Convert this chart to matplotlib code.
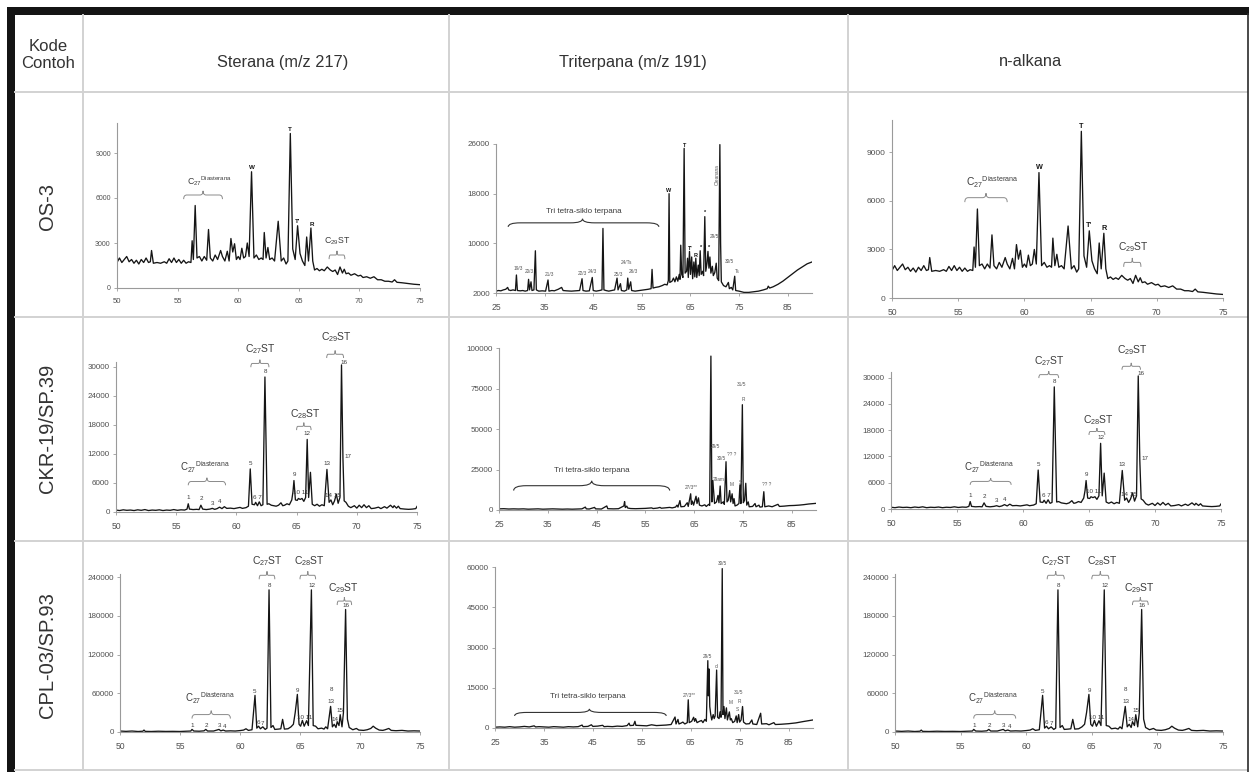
import matplotlib

matplotlib.use("Agg")
import matplotlib.pyplot as plt
from matplotlib.patches import PathPatch, Rectangle
from matplotlib.path import Path

plt.rcParams["font.family"] = ["Liberation Sans", "DejaVu Sans"]
plt.rcParams["mathtext.fontset"] = "custom"
plt.rcParams["mathtext.rm"] = "Liberation Sans"
plt.rcParams["mathtext.it"] = "Liberation Sans:italic"

W, H = 1250, 772

SAMPLES = ["OS-3", "CKR-19/SP.39", "CPL-03/SP.93"]
COLUMNS = ["Sterana (m/z 217)", "Triterpana (m/z 191)", "n-alkana"]

STER_XTICKS = [50, 55, 60, 65, 70, 75]
TRI_XTICKS = [25, 35, 45, 55, 65, 75, 85]
yticks_os3_ster = [0, 3000, 6000, 9000]
yticks_os3_tri = [2000, 10000, 18000, 26000]
yticks_ckr_ster = [0, 6000, 12000, 18000, 24000, 30000]
yticks_ckr_tri = [0, 25000, 50000, 75000, 100000]
yticks_cpl_ster = [0, 60000, 120000, 180000, 240000]
yticks_cpl_tri = [0, 15000, 30000, 45000, 60000]

# traces: (retention time, abundance)
os3_sterana = [
    (50.0, 1700), (50.2, 2000), (50.4, 1700), (50.6, 1900), (50.8, 2100), (51.0, 1750),
    (51.2, 1900), (51.4, 1650), (51.6, 1850), (51.8, 1600), (52.0, 1900), (52.2, 1700),
    (52.4, 2000), (52.6, 1700), (52.75, 1750), (52.85, 2500), (53.0, 1650), (53.3, 1700),
    (53.6, 1650), (53.9, 1750), (54.1, 1650), (54.3, 1950), (54.5, 1700), (54.7, 2000),
    (54.9, 1700), (55.1, 1900), (55.3, 1650), (55.5, 1850), (55.7, 1650), (55.9, 1750),
    (56.1, 1700), (56.2, 3150), (56.3, 1900), (56.45, 5500), (56.6, 2000), (56.8, 2100),
    (57.0, 1800), (57.2, 2100), (57.4, 1850), (57.55, 3900), (57.7, 2000), (57.9, 1800),
    (58.1, 2200), (58.3, 1900), (58.55, 2500), (58.7, 2100), (58.9, 1800), (59.1, 2450),
    (59.25, 1800), (59.4, 3300), (59.55, 2400), (59.7, 2950), (59.85, 1900), (60.0, 2100),
    (60.15, 1900), (60.3, 2650), (60.45, 2000), (60.6, 2100), (60.75, 3000), (60.9, 2100),
    (61.1, 7750), (61.3, 2000), (61.5, 2200), (61.7, 1900), (61.9, 2000), (62.05, 1900),
    (62.15, 3700), (62.3, 2000), (62.45, 2700), (62.6, 1900), (62.8, 2000), (63.0, 1800),
    (63.3, 4450), (63.55, 1800), (63.75, 2000), (63.95, 1600), (64.1, 1800), (64.3, 10300),
    (64.5, 2600), (64.7, 1900), (64.9, 4150), (65.1, 2300), (65.3, 1800), (65.5, 1500),
    (65.65, 3400), (65.8, 1800), (66.0, 4000), (66.15, 1800), (66.3, 1200), (66.5, 1300),
    (66.7, 1150), (66.9, 1250), (67.1, 1150), (67.35, 1400), (67.6, 1200), (67.8, 1100),
    (68.0, 1200), (68.2, 900), (68.4, 1400), (68.6, 1000), (68.75, 1250), (68.9, 950),
    (69.1, 1000), (69.3, 850), (69.6, 950), (69.9, 800), (70.1, 850), (70.3, 700),
    (70.6, 750), (70.9, 650), (71.2, 750), (71.5, 550), (71.8, 550), (72.1, 450),
    (72.4, 450), (72.7, 400), (72.9, 550), (73.1, 380), (73.5, 350), (74.0, 300),
    (74.5, 250), (75.0, 220),
]

os3_triterpana = [
    (25.0, 2300), (25.5, 2400), (26.0, 2350), (26.5, 2500), (27.0, 2600), (27.4, 2900),
    (27.6, 2500), (28.0, 2400), (28.5, 2500), (29.0, 2400), (29.2, 4900), (29.4, 2400),
    (30.0, 2350), (30.5, 2400), (31.0, 2300), (31.5, 2400), (31.7, 4200), (31.9, 2500),
    (32.2, 3800), (32.4, 2400), (32.8, 2500), (33.1, 8800), (33.3, 2500), (33.8, 2300),
    (34.5, 2350), (35.2, 2300), (35.7, 4100), (35.9, 2300), (36.5, 2400), (37.0, 2350),
    (37.8, 2600), (38.5, 2900), (38.8, 2400), (39.5, 2350), (40.5, 2300), (41.5, 2350),
    (42.2, 2400), (42.7, 4300), (42.9, 2400), (43.5, 2300), (44.2, 2350), (44.8, 4500),
    (45.0, 2400), (45.6, 2300), (46.3, 2400), (46.8, 2500), (47.0, 12400), (47.2, 2500),
    (47.6, 2400), (48.2, 2300), (48.8, 2400), (49.4, 2500), (49.9, 4400), (50.1, 2500),
    (50.6, 3500), (50.8, 2400), (51.4, 2300), (51.9, 2500), (52.1, 4400), (52.3, 2600),
    (52.7, 3800), (52.9, 2400), (53.6, 2300), (54.5, 2400), (55.5, 2500), (56.3, 2600),
    (56.9, 2700), (57.1, 5800), (57.3, 2800), (57.8, 2900), (58.5, 3000), (59.2, 3200),
    (59.7, 3400), (60.2, 3300), (60.45, 4000), (60.6, 18000), (60.75, 3700), (61.2, 3900),
    (61.5, 4400), (61.8, 3800), (62.1, 4600), (62.4, 3900), (62.7, 5000), (62.85, 4200),
    (63.0, 9700), (63.2, 5000), (63.45, 4500), (63.7, 25300), (63.9, 5200), (64.2, 5500),
    (64.4, 7600), (64.55, 4500), (64.8, 8700), (65.0, 5000), (65.25, 7800), (65.45, 4300),
    (65.7, 7000), (65.9, 4600), (66.1, 7600), (66.3, 4500), (66.6, 6500), (66.8, 4800),
    (67.0, 8800), (67.2, 5000), (67.5, 5500), (67.7, 4800), (67.95, 14300), (68.15, 5500),
    (68.4, 6800), (68.6, 8700), (68.8, 6000), (69.0, 7800), (69.2, 5200), (69.5, 6300),
    (69.7, 4800), (70.0, 5300), (70.3, 6800), (70.5, 4400), (70.8, 4000), (71.05, 25900),
    (71.2, 10000), (71.35, 3800), (71.8, 3200), (72.3, 3000), (72.8, 3700), (73.0, 2700),
    (73.4, 2900), (73.7, 2500), (74.1, 4700), (74.3, 2400), (75.0, 2300), (76.0, 2100),
    (77.0, 2100), (78.0, 2200), (79.0, 2300), (80.0, 2500), (80.8, 2700), (81.0, 3100),
    (81.3, 2800), (82.0, 3000), (83.0, 3400), (84.0, 3900), (85.0, 4500), (86.0, 5100),
    (87.0, 5700), (88.0, 6200), (89.0, 6700), (90.0, 7000),
]

ckr_sterana = [
    (50.0, 400), (50.3, 300), (50.6, 450), (50.9, 350), (51.2, 400), (51.5, 300),
    (51.8, 450), (52.1, 350), (52.4, 500), (52.7, 300), (53.0, 400), (53.3, 350),
    (53.6, 450), (53.9, 300), (54.2, 400), (54.5, 350), (54.8, 500), (55.1, 350),
    (55.4, 450), (55.7, 400), (55.9, 600), (56.0, 1700), (56.1, 600), (56.4, 500),
    (56.7, 550), (56.9, 500), (57.05, 1400), (57.2, 600), (57.5, 500), (57.8, 600),
    (58.0, 750), (58.2, 550), (58.4, 700), (58.6, 1000), (58.8, 700), (59.0, 1100),
    (59.2, 750), (59.5, 800), (59.8, 700), (60.0, 800), (60.3, 950), (60.5, 750),
    (60.8, 900), (61.0, 1200), (61.15, 8900), (61.3, 1600), (61.5, 1500), (61.6, 2000),
    (61.75, 1300), (61.9, 2100), (62.05, 1300), (62.2, 1500), (62.37, 27900), (62.55, 1600),
    (62.7, 1700), (62.9, 1400), (63.1, 1300), (63.3, 1200), (63.5, 1400), (63.7, 1900),
    (63.85, 1300), (64.0, 1400), (64.2, 1700), (64.4, 1500), (64.6, 2500), (64.7, 4200),
    (64.78, 6500), (64.9, 2500), (65.05, 2400), (65.15, 2800), (65.3, 2600), (65.45, 2800),
    (65.6, 2200), (65.75, 3000), (65.88, 15000), (66.0, 3000), (66.15, 8200), (66.3, 1600),
    (66.5, 1300), (66.7, 1600), (66.9, 1200), (67.1, 1500), (67.3, 1300), (67.52, 8800),
    (67.7, 2000), (67.85, 2500), (68.0, 1500), (68.15, 2300), (68.3, 3700), (68.45, 1800),
    (68.6, 3000), (68.73, 30400), (68.85, 11000), (68.95, 2300), (69.1, 2000), (69.3, 1200),
    (69.5, 900), (69.8, 1300), (70.0, 800), (70.2, 1400), (70.4, 900), (70.6, 1500),
    (70.8, 900), (71.0, 1300), (71.2, 700), (71.5, 800), (71.8, 1000), (72.0, 700),
    (72.3, 1100), (72.5, 800), (72.8, 1400), (73.0, 900), (73.1, 1300), (73.3, 800),
    (73.45, 1200), (73.6, 700), (74.0, 600), (74.3, 550), (74.6, 600), (74.9, 700),
    (75.0, 1150),
]

ckr_triterpana = [
    (25.0, 700), (26.0, 800), (27.0, 600), (28.0, 700), (29.0, 600), (30.0, 700),
    (31.0, 500), (32.0, 600), (33.0, 700), (34.0, 500), (35.0, 600), (36.0, 700),
    (37.0, 600), (38.0, 500), (39.0, 600), (40.0, 500), (41.0, 600), (42.0, 700),
    (42.7, 1800), (42.9, 700), (43.5, 600), (44.6, 1600), (44.8, 700), (46.0, 600),
    (47.1, 2500), (47.3, 800), (48.5, 700), (49.5, 800), (50.6, 2500), (50.75, 5200),
    (50.9, 1500), (51.2, 2400), (51.4, 1200), (52.0, 900), (53.0, 800), (54.0, 900),
    (55.0, 1000), (56.3, 1300), (56.6, 900), (57.5, 1200), (58.0, 1600), (58.3, 1100),
    (59.0, 1300), (60.0, 1600), (60.5, 1300), (61.2, 1800), (61.5, 3000), (61.7, 1800),
    (62.1, 5800), (62.3, 2000), (63.0, 2200), (63.6, 4500), (63.8, 2200), (64.3, 10000),
    (64.45, 3500), (64.65, 5500), (64.9, 3000), (65.4, 8500), (65.6, 4000), (65.9, 7500),
    (66.1, 3000), (66.6, 2500), (67.2, 3200), (67.5, 2200), (68.0, 3500), (68.2, 2800),
    (68.45, 95000), (68.65, 5000), (68.8, 18000), (69.0, 12000), (69.2, 4000), (69.6, 5000),
    (69.9, 9000), (70.1, 4500), (70.35, 14800), (70.55, 4000), (71.0, 5000), (71.2, 3500),
    (71.55, 29800), (71.75, 5000), (72.0, 6000), (72.3, 12000), (72.5, 5000), (72.8, 10000),
    (73.0, 4000), (73.2, 7000), (73.4, 2500), (73.8, 3000), (74.2, 4000), (74.4, 15500),
    (74.6, 4000), (74.9, 65000), (75.1, 4500), (75.35, 6000), (75.6, 16500), (75.8, 3000),
    (76.1, 5000), (76.3, 2000), (77.0, 2200), (77.5, 4000), (77.7, 2000), (78.3, 3000),
    (78.5, 1800), (79.0, 2000), (79.3, 11300), (79.5, 2000), (80.3, 2500), (81.0, 2000),
    (82.2, 3500), (82.5, 2200), (83.5, 2400), (84.5, 2700), (85.5, 2800), (86.5, 3000),
    (87.5, 3300), (88.5, 3700), (90.0, 4100),
]

cpl_sterana = [
    (50.0, 1500), (50.5, 1000), (51.0, 1500), (51.5, 800), (51.9, 1200), (52.0, 3000),
    (52.1, 1000), (52.6, 800), (53.2, 1200), (53.8, 900), (54.4, 1000), (55.0, 800),
    (55.5, 1200), (55.9, 1500), (56.0, 4000), (56.15, 1500), (56.6, 1200), (57.0, 1800),
    (57.15, 4000), (57.3, 1500), (57.8, 1500), (58.25, 4000), (58.4, 1800), (58.6, 3000),
    (58.8, 1500), (59.2, 1800), (59.6, 1500), (60.0, 2200), (60.3, 3000), (60.5, 5000),
    (60.7, 2500), (61.0, 3500), (61.25, 56800), (61.4, 6000), (61.55, 9000), (61.7, 5000),
    (61.9, 8000), (62.1, 4000), (62.25, 6000), (62.42, 220400), (62.58, 7000), (62.75, 10000),
    (62.9, 4000), (63.2, 4500), (63.4, 5000), (63.55, 19600), (63.7, 4500), (64.0, 5000),
    (64.25, 8000), (64.45, 12000), (64.6, 30000), (64.78, 58300), (64.92, 12000), (65.05, 9000),
    (65.2, 18000), (65.35, 9000), (65.55, 17500), (65.7, 10000), (65.95, 220400), (66.1, 10000),
    (66.3, 9000), (66.5, 5000), (66.8, 6000), (67.0, 4500), (67.15, 8000), (67.3, 5000),
    (67.55, 39700), (67.7, 8000), (67.85, 12000), (68.0, 7000), (68.1, 16000), (68.25, 10000),
    (68.35, 26800), (68.5, 8000), (68.62, 30000), (68.8, 190000), (68.95, 20000), (69.1, 7000),
    (69.4, 3500), (69.7, 5500), (69.9, 3000), (70.3, 2500), (70.6, 3500), (70.9, 5500),
    (71.1, 9000), (71.3, 6000), (71.6, 3000), (71.9, 2500), (72.1, 3500), (72.4, 5500),
    (72.6, 2500), (73.0, 2000), (73.5, 2500), (74.0, 1500), (74.5, 1800), (75.0, 1500),
]

cpl_triterpana = [
    (25.0, 300), (26.0, 400), (27.0, 300), (28.0, 500), (29.0, 300), (30.0, 400),
    (31.0, 600), (32.0, 400), (33.0, 800), (33.3, 400), (34.0, 500), (35.0, 400),
    (36.0, 300), (37.0, 500), (38.0, 400), (39.0, 300), (40.0, 500), (41.0, 400),
    (42.0, 500), (42.8, 1100), (43.0, 500), (44.0, 600), (44.7, 1200), (45.0, 600),
    (46.0, 700), (47.0, 1000), (47.3, 500), (48.0, 600), (49.0, 500), (50.0, 700),
    (51.0, 600), (52.0, 900), (52.4, 1800), (52.6, 900), (53.3, 1000), (53.6, 2500),
    (53.8, 1000), (55.0, 900), (56.0, 800), (57.0, 1200), (58.0, 900), (59.0, 1000),
    (60.0, 1100), (61.0, 1300), (61.8, 4100), (62.0, 1500), (62.4, 3200), (62.6, 1500),
    (63.0, 1800), (63.4, 2200), (63.8, 1500), (64.3, 2000), (64.5, 10500), (64.7, 2000),
    (65.2, 2500), (65.6, 4000), (65.8, 2500), (66.0, 3500), (66.3, 2000), (66.8, 2500),
    (67.2, 2800), (67.5, 2000), (67.9, 3200), (68.2, 2500), (68.5, 25100), (68.6, 12000),
    (68.75, 22000), (68.9, 8000), (69.1, 5000), (69.3, 3000), (69.6, 5000), (69.8, 3500),
    (70.0, 4500), (70.3, 21600), (70.5, 4000), (70.8, 3500), (71.0, 6000), (71.2, 4000),
    (71.45, 59400), (71.6, 5000), (71.8, 8000), (72.0, 3500), (72.3, 7500), (72.5, 3000),
    (72.9, 6000), (73.1, 3000), (73.3, 3500), (73.6, 2000), (74.0, 2500), (74.3, 4500),
    (74.5, 2000), (74.8, 5000), (75.0, 2200), (75.3, 3000), (75.6, 8000), (75.8, 2200),
    (76.3, 1500), (77.0, 1600), (77.5, 3000), (77.7, 1500), (78.5, 1300), (79.3, 5500),
    (79.5, 1500), (80.5, 1600), (81.0, 1200), (82.0, 2000), (82.3, 1300), (83.5, 1400),
    (85.0, 1600), (86.5, 1900), (88.0, 2400), (89.0, 2700), (90.0, 3000),
]

INK = "#151515"
GREY_TXT = "#3c3c3c"
AXIS_C = "#9a9a9a"

DIA = r"$\mathrm{C_{27}{}^{Diasterana}}$"


def st_label(n):
    return r"$\mathrm{C_{%d}ST}$" % n


def add_px_axes(fig, x0, y_top, x1, y_bot):
    return fig.add_axes([x0 / W, 1 - y_bot / H, (x1 - x0) / W, (y_bot - y_top) / H])


def brace(ax, x0, x1, y, depth, tip=None, color="#8a8a8a", lw=0.7):
    xm = (x0 + x1) / 2 if tip is None else tip
    w = (x1 - x0) * 0.08
    verts = [
        (x0, y - depth), (x0, y), (x0 + w, y), (xm - w, y), (xm, y), (xm, y + depth),
        (xm, y), (xm + w, y), (x1 - w, y), (x1, y), (x1, y - depth),
    ]
    codes = [
        Path.MOVETO, Path.CURVE3, Path.CURVE3, Path.LINETO, Path.CURVE3, Path.CURVE3,
        Path.CURVE3, Path.CURVE3, Path.LINETO, Path.CURVE3, Path.CURVE3,
    ]
    ax.add_patch(PathPatch(Path(verts, codes), fill=False, ec=color, lw=lw, clip_on=False))


def draw_trace(ax, trace, xlim, ylim, xticks, yticks, yfs=5.8, xfs=6.2):
    rt = [p[0] for p in trace]
    val = [p[1] for p in trace]
    ax.plot(rt, val, color=INK, lw=0.95)
    ax.set_xlim(*xlim)
    ax.set_ylim(*ylim)
    ax.set_xticks(xticks)
    ax.set_xticklabels([str(t) for t in xticks])
    ax.set_yticks(yticks)
    ax.set_yticklabels([str(t) for t in yticks])
    for side in ("top", "right"):
        ax.spines[side].set_visible(False)
    for side in ("left", "bottom"):
        ax.spines[side].set_color(AXIS_C)
        ax.spines[side].set_linewidth(0.8)
    ax.tick_params(axis="y", length=2.5, width=0.6, color=AXIS_C, labelsize=yfs,
                   labelcolor="#505050", pad=2)
    ax.tick_params(axis="x", length=2, width=0.6, color=AXIS_C, labelsize=xfs,
                   labelcolor="#505050", pad=5)
    ax.patch.set_alpha(0)


def txt(ax, x, y, s, size, color=GREY_TXT, **kw):
    kw.setdefault("ha", "center")
    kw.setdefault("va", "bottom")
    ax.text(x, y, s, fontsize=size, color=color, clip_on=False, **kw)


def notes_os3_sterana(ax, k=1.0):
    top = ax.get_ylim()[1]
    d = top * 0.025
    txt(ax, 57.6, 6700, DIA, 7 * k)
    brace(ax, 55.5, 58.7, 6200, d)
    txt(ax, 61.1, 7850, "W", 5 * k, color=INK, weight="bold")
    txt(ax, 64.3, 10400, "T", 5 * k, color=INK, weight="bold")
    txt(ax, 64.9, 4250, "T'", 5 * k, color=INK, weight="bold")
    txt(ax, 66.05, 4100, "R", 5 * k, color=INK, weight="bold")
    txt(ax, 68.2, 2750, st_label(29), 7 * k)
    brace(ax, 67.5, 68.8, 2200, d)


def notes_ckr_sterana(ax, k=1.0):
    top = ax.get_ylim()[1]
    d = top * 0.025
    txt(ax, 57.4, 7700, DIA, 7 * k)
    brace(ax, 56.0, 59.1, 6300, d)
    txt(ax, 62.0, 32200, st_label(27), 7.5 * k)
    brace(ax, 61.2, 62.7, 30700, d)
    txt(ax, 65.7, 18800, st_label(28), 7.5 * k)
    brace(ax, 65.0, 66.2, 17700, d)
    txt(ax, 68.3, 34800, st_label(29), 7.5 * k)
    brace(ax, 67.5, 68.9, 32600, d)
    for x, y, s in [
        (56.0, 2500, "1"), (57.1, 2200, "2"), (58.0, 1300, "3"), (58.6, 1600, "4"),
        (61.2, 9600, "5"), (61.75, 2500, "6 7"), (62.4, 28600, "8"), (64.8, 7200, "9"),
        (65.35, 3500, "10 11"), (65.9, 15700, "12"), (67.5, 9500, "13"),
        (68.0, 2800, "14 15"), (68.9, 30300, "16"), (69.25, 11000, "17"),
    ]:
        txt(ax, x, y, s, 4.5 * k)


def notes_cpl_sterana(ax, k=1.0):
    top = ax.get_ylim()[1]
    d = top * 0.025
    txt(ax, 57.5, 40000, DIA, 7 * k)
    brace(ax, 56.0, 59.2, 27000, d)
    txt(ax, 62.3, 254000, st_label(27), 7.5 * k)
    brace(ax, 61.6, 62.9, 243000, d)
    txt(ax, 65.8, 254000, st_label(28), 7.5 * k)
    brace(ax, 65.0, 66.3, 243000, d)
    txt(ax, 68.6, 212000, st_label(29), 7.5 * k)
    brace(ax, 68.1, 69.3, 203000, d)
    for x, y, s in [
        (56.0, 5500, "1"), (57.2, 6000, "2"), (58.3, 6000, "3"), (58.75, 4000, "4"),
        (61.2, 59500, "5"), (61.5, 10500, "6"), (61.9, 9500, "7"), (62.45, 223000, "8"),
        (64.8, 61000, "9"), (65.4, 19000, "10 11"), (65.97, 223000, "12"),
        (67.6, 62000, "8"), (67.6, 43000, "13"), (67.95, 15000, "14"), (68.35, 29000, "15"),
        (68.85, 192000, "16"),
    ]:
        txt(ax, x, y, s, 4.5 * k)


def notes_os3_triterpana(ax):
    txt(ax, 43.0, 14600, "Tri tetra-siklo terpana", 5.8)
    brace(ax, 27.5, 58.5, 13300, 650, tip=42.8, color="#333333", lw=0.8)
    for x, y, s in [
        (29.6, 5500, "19/3"), (31.9, 5100, "20/3"), (35.9, 4600, "21/3"), (42.8, 4800, "22/3"),
        (44.8, 5000, "24/3"), (50.1, 4600, "25/3"), (51.9, 6500, "24/Ts"), (53.3, 5000, "26/3"),
        (70.0, 10700, "29/5"), (73.1, 6700, "30/5"), (74.6, 5100, "Ts"),
    ]:
        txt(ax, x, y, s, 3.4, color="#555555")
    for x, y, s in [
        (60.6, 18100, "W"), (63.8, 25400, "T"), (65.0, 8800, "T'"), (66.1, 7700, "R"),
        (67.1, 9000, "*"), (68.0, 14500, "*"), (68.8, 8900, "*"),
    ]:
        txt(ax, x, y, s, 4, color=INK, weight="bold")
    ax.text(70.5, 21000, "Oleanana", fontsize=3.4, color="#555555", rotation=90,
            ha="center", va="center", clip_on=False)


def notes_ckr_triterpana(ax):
    txt(ax, 44.0, 22500, "Tri tetra-siklo terpana", 5.8)
    brace(ax, 28.0, 60.0, 15000, 3000, tip=44.0, color="#333333", lw=0.8)
    for x, y, s in [
        (64.5, 12500, "27/3**"), (69.3, 37500, "29/5"), (70.0, 17500, "29am"),
        (70.6, 30500, "30/5"), (72.8, 32500, "?? ?"), (72.8, 14000, "M"),
        (74.7, 76000, "31/5"), (75.0, 66500, "R"), (74.4, 15500, "S"), (79.9, 14000, "?? ?"),
    ]:
        txt(ax, x, y, s, 3.4, color="#555555")


def notes_cpl_triterpana(ax):
    txt(ax, 44.0, 10300, "Tri tetra-siklo terpana", 5.8)
    brace(ax, 29.0, 60.0, 5800, 1300, tip=44.3, color="#333333", lw=0.8)
    for x, y, s in [
        (64.6, 11200, "27/3**"), (68.4, 25800, "29/5"), (71.5, 60300, "30/5"),
        (73.1, 8600, "M"), (74.8, 12300, "31/5"), (74.6, 5800, "S"), (75.0, 9000, "R"),
        (70.4, 21900, "ol"),
    ]:
        txt(ax, x, y, s, 3.4, color="#555555")


fig = plt.figure(figsize=(W / 100, H / 100), dpi=100)
bg = fig.add_axes([0, 0, 1, 1])
bg.set_xlim(0, W)
bg.set_ylim(H, 0)
bg.axis("off")

# table grid
grid_c = "#d2d2d2"
for y in (92, 317, 541, 770):
    bg.plot([15, 1247], [y, y], color=grid_c, lw=1.4)
for x in (83, 449, 848):
    bg.plot([x, x], [15, 770], color=grid_c, lw=1.4)
# frame: heavy black on top and left, thin on right
bg.add_patch(Rectangle((7, 7), 1242, 8, color="#141414", lw=0))
bg.add_patch(Rectangle((7, 7), 8, 765, color="#141414", lw=0))
bg.plot([1247.5, 1247.5], [14, 772], color="#2a2a2a", lw=1.2)

bg.text(48, 55, "Kode\nContoh", ha="center", va="center", fontsize=12,
        color="#333333", linespacing=1.15)
for xc, title in zip((283, 633, 1030), COLUMNS):
    bg.text(xc, 62, title, ha="center", va="center", fontsize=11.8, color="#333333")
for yc, name in zip((206, 428, 655), SAMPLES):
    bg.text(48, yc, name, ha="center", va="center", rotation=90, fontsize=14.5,
            color="#333333")

# row 1: OS-3
ax = add_px_axes(fig, 117, 123, 420, 288)
draw_trace(ax, os3_sterana, (50, 75), (0, 11000), STER_XTICKS, yticks_os3_ster, yfs=5.0, xfs=5.6)
notes_os3_sterana(ax, k=0.9)
ax = add_px_axes(fig, 496, 144, 812, 293)
draw_trace(ax, os3_triterpana, (25, 90), (2000, 26000), TRI_XTICKS, yticks_os3_tri)
notes_os3_triterpana(ax)
ax = add_px_axes(fig, 892, 120, 1223, 298)
# the n-alkana column of the source repeats the sterana traces
draw_trace(ax, os3_sterana, (50, 75), (0, 11000), STER_XTICKS, yticks_os3_ster, yfs=6.0)
notes_os3_sterana(ax, k=1.05)

# row 2: CKR-19/SP.39
ax = add_px_axes(fig, 116, 362, 417, 512)
draw_trace(ax, ckr_sterana, (50, 75), (0, 31000), STER_XTICKS, yticks_ckr_ster)
notes_ckr_sterana(ax)
ax = add_px_axes(fig, 499, 348, 816, 510)
draw_trace(ax, ckr_triterpana, (25, 90), (0, 100000), TRI_XTICKS, yticks_ckr_tri)
notes_ckr_triterpana(ax)
ax = add_px_axes(fig, 891, 372, 1221, 509)
draw_trace(ax, ckr_sterana, (50, 75), (0, 31300), STER_XTICKS, yticks_ckr_ster)
notes_ckr_sterana(ax)

# row 3: CPL-03/SP.93
ax = add_px_axes(fig, 120, 574, 420, 732)
draw_trace(ax, cpl_sterana, (50, 75), (0, 245000), STER_XTICKS, yticks_cpl_ster)
notes_cpl_sterana(ax)
ax = add_px_axes(fig, 495, 567, 813, 728)
draw_trace(ax, cpl_triterpana, (25, 90), (0, 60000), TRI_XTICKS, yticks_cpl_tri)
notes_cpl_triterpana(ax)
ax = add_px_axes(fig, 895, 574, 1223, 732)
draw_trace(ax, cpl_sterana, (50, 75), (0, 245000), STER_XTICKS, yticks_cpl_ster)
notes_cpl_sterana(ax)

fig.savefig("out.png", dpi=100)
